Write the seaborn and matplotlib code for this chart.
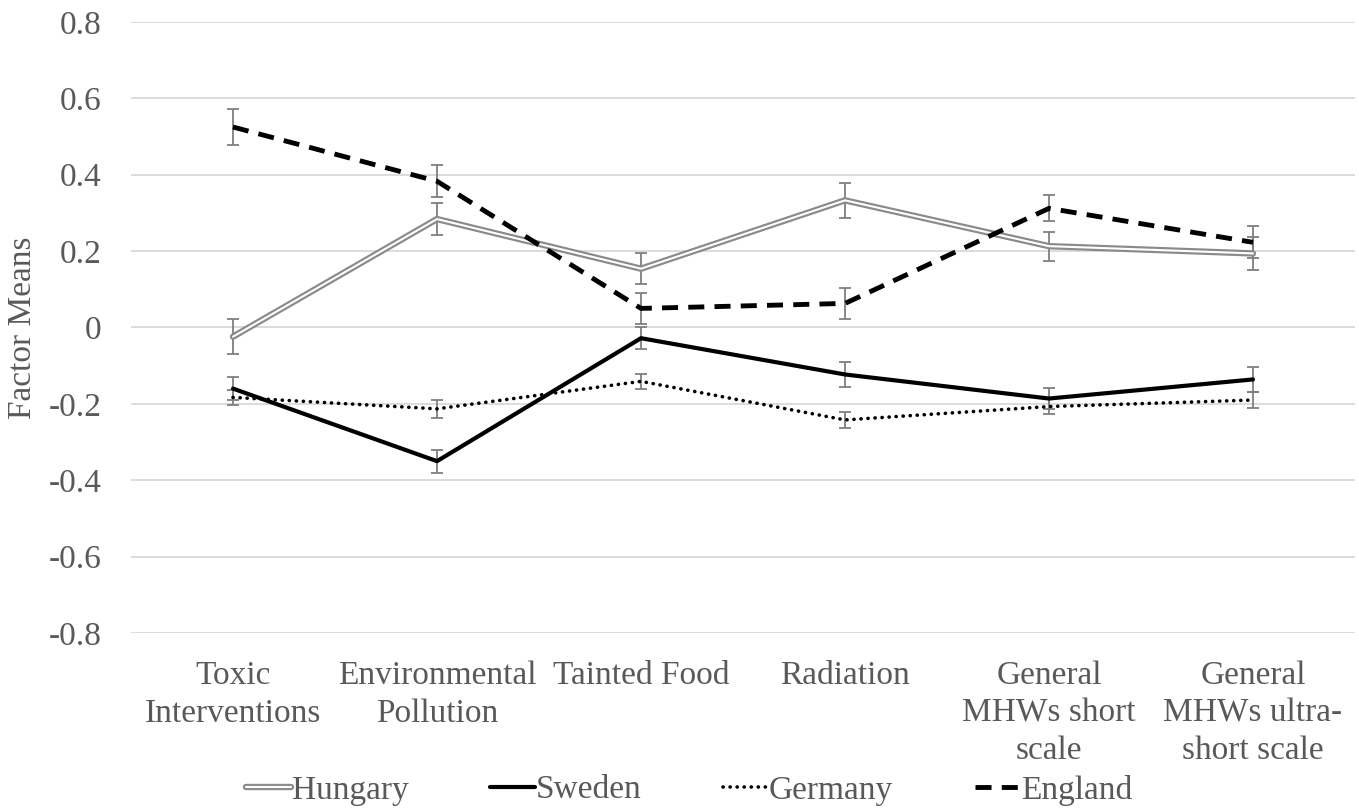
import numpy as np
import pandas as pd
import matplotlib
matplotlib.use("Agg")
import matplotlib.pyplot as plt
import matplotlib.patheffects as pe
from matplotlib.lines import Line2D
import seaborn as sns

categories = ["Toxic\nInterventions", "Environmental\nPollution", "Tainted Food",
              "Radiation", "General\nMHWs short\nscale", "General\nMHWs ultra-\nshort scale"]
series_names = ["Hungary", "Sweden", "Germany", "England"]

hungary = [-0.024, 0.284, 0.154, 0.333, 0.213, 0.194]
hungary_err = [0.045, 0.043, 0.040, 0.045, 0.038, 0.043]
sweden = [-0.160, -0.350, -0.028, -0.123, -0.186, -0.136]
sweden_err = [0.030, 0.030, 0.028, 0.032, 0.028, 0.032]
germany = [-0.183, -0.213, -0.141, -0.242, -0.207, -0.190]
germany_err = [0.020, 0.023, 0.020, 0.022, 0.020, 0.022]
england = [0.525, 0.383, 0.050, 0.063, 0.312, 0.223]
england_err = [0.047, 0.042, 0.040, 0.041, 0.034, 0.042]

yticks = [-0.8, -0.6, -0.4, -0.2, 0, 0.2, 0.4, 0.6, 0.8]
ytick_labels = ["-0.8", "-0.6", "-0.4", "-0.2", "0", "0.2", "0.4", "0.6", "0.8"]

sns.set_theme(style="white")
plt.rcParams['font.family'] = ['Liberation Serif', 'DejaVu Serif']

TXT = "#595959"
FS = 24

fig = plt.figure(figsize=(13.59, 8.11), dpi=100)
ax = fig.add_axes([131/1359, 1 - 633/811, 1224/1359, (633-22)/811])

x = np.arange(len(categories))
data = {"Hungary": (hungary, hungary_err), "Sweden": (sweden, sweden_err),
        "Germany": (germany, germany_err), "England": (england, england_err)}

styles = {
    "Hungary": dict(color="white", linewidth=1.5, linestyle="-",
                    path_effects=[pe.Stroke(linewidth=4.6, foreground="#8a8a8a"), pe.Normal()]),
    "Sweden": dict(color="black", linewidth=3.0, linestyle="-"),
    "Germany": dict(color="black", linewidth=2.6, linestyle=(0, (0.05, 1.9)), dash_capstyle="round"),
    "England": dict(color="black", linewidth=3.5, linestyle=(0, (3.3, 2.1))),
}

for name in series_names:
    vals, errs = data[name]
    ax.errorbar(x, vals, yerr=errs, fmt="none", ecolor="#7f7f7f", elinewidth=1.3,
                capsize=4.5, capthick=1.3, zorder=2)

for name in ["Germany", "Sweden", "Hungary", "England"]:
    vals, errs = data[name]
    df = pd.DataFrame({"x": x, "y": vals})
    st = dict(styles[name])
    ls = st.pop("linestyle")
    sns.lineplot(data=df, x="x", y="y", ax=ax, zorder=3, **st)
    ax.lines[-1].set_linestyle(ls)

ax.set_xlim(-0.5, len(categories) - 0.5)
ax.set_ylim(-0.8, 0.8)
ax.set_yticks(yticks)
ax.set_yticklabels(ytick_labels, fontsize=FS, color=TXT)
ax.set_xticks(x)
ax.set_xticklabels(categories, fontsize=FS, color=TXT, linespacing=1.3)
ax.tick_params(axis="both", length=0)
ax.tick_params(axis="y", pad=21)
ax.tick_params(axis="x", pad=20)
ax.yaxis.grid(True, color="#d9d9d9", linewidth=1.3)
ax.xaxis.grid(False)
for s in ax.spines.values():
    s.set_visible(False)
ax.set_xlabel("")
ax.set_ylabel("Factor Means", fontsize=FS, color=TXT, labelpad=8)

handles = []
for name in series_names:
    st = dict(styles[name])
    handles.append(Line2D([0], [0], **st))
leg = fig.legend(handles, series_names, loc="center", bbox_to_anchor=(0.507, 1 - 790/811),
                 ncol=4, frameon=False, fontsize=FS, handlelength=1.35, handletextpad=0.02,
                 columnspacing=2.45)
for t in leg.get_texts():
    t.set_color(TXT)

fig.savefig("out.png", dpi=100)
